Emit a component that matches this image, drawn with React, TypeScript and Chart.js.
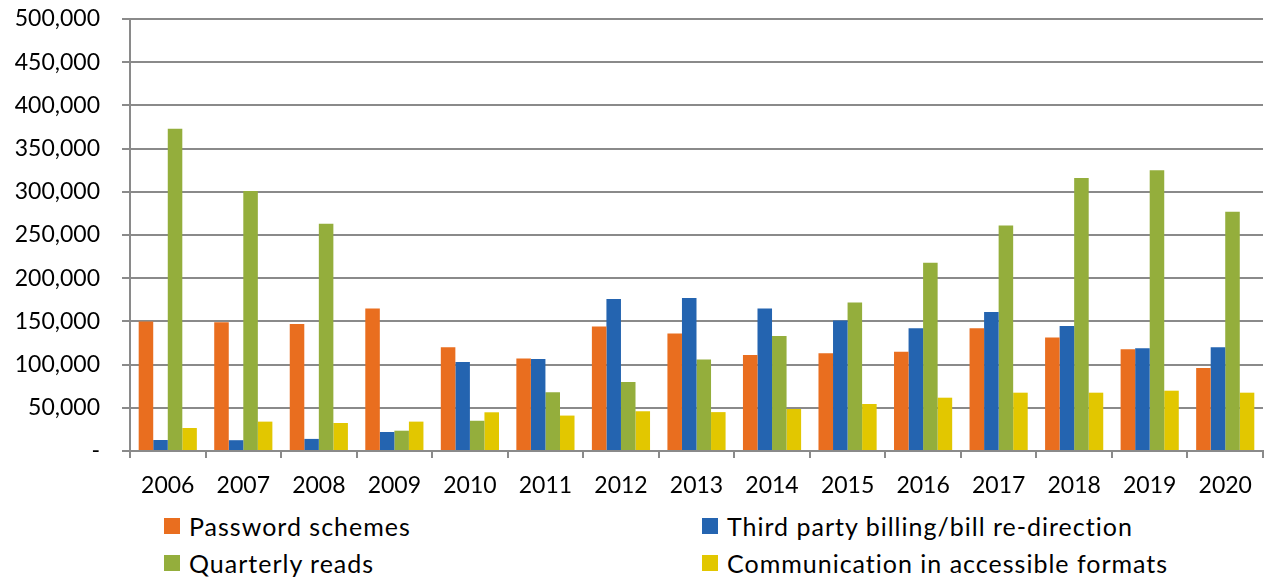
import React, { useEffect, useRef } from "react";
import { Chart, registerables } from "chart.js";

Chart.register(...registerables);

const years = ["2006","2007","2008","2009","2010","2011","2012","2013","2014","2015","2016","2017","2018","2019","2020"];
const passwordSchemes = [150000,149000,147000,165000,120000,107000,144000,136000,111000,113000,115000,142000,131500,117700,96000];
const thirdPartyBilling = [12700,12500,14000,22000,103000,106500,176000,177000,165000,151000,142000,161000,144700,119000,120000];
const quarterlyReads = [373000,301000,263000,23500,35000,68000,80000,106000,133000,172000,218000,261000,316000,325000,277000];
const accessibleFormats = [26600,34000,32400,34000,44800,41000,46000,45000,48600,54400,61700,67500,67500,69800,67500];
const seriesNames = ["Password schemes","Third party billing/bill re-direction","Quarterly reads","Communication in accessible formats"];
const seriesColors = ["#E96E1F","#2464B0","#94AE3C","#E2C700"];
const yTicks = [0,50000,100000,150000,200000,250000,300000,350000,400000,450000,500000];

const FONT = "Lato, 'Noto Sans', sans-serif";

export default function App() {
  const ref = useRef<HTMLCanvasElement | null>(null);
  useEffect(() => {
    if (!ref.current) return;
    const values = [passwordSchemes, thirdPartyBilling, quarterlyReads, accessibleFormats];
    const chart = new Chart(ref.current, {
      type: "bar",
      data: {
        labels: years,
        datasets: values.map((v, i) => ({
          label: seriesNames[i],
          data: v,
          backgroundColor: seriesColors[i],
          borderWidth: 0,
          categoryPercentage: 0.77,
          barPercentage: 1,
        })),
      },
      options: {
        animation: false,
        responsive: false,
        maintainAspectRatio: false,
        layout: { padding: { left: 0, right: 3, top: 19, bottom: 0 } },
        plugins: { legend: { display: false }, tooltip: { enabled: false } },
        scales: {
          x: {
            grid: { display: true, drawOnChartArea: false, drawTicks: true, tickLength: 7, color: "#8a8a8a", lineWidth: 2 },
            border: { display: true, color: "#8a8a8a", width: 2 },
            ticks: { color: "#000", font: { family: FONT, size: 23 }, padding: 14, maxRotation: 0, autoSkip: false },
            afterFit: (s: any) => { s.height = 49; s.paddingLeft = 0; s.paddingRight = 0; },
          },
          y: {
            min: 0,
            max: 500000,
            afterBuildTicks: (s: any) => { s.ticks = yTicks.map((v) => ({ value: v })); },
            grid: { color: "#8a8a8a", lineWidth: 2, tickLength: 8, drawTicks: true },
            border: { display: true, color: "#8a8a8a", width: 2 },
            ticks: {
              color: "#000",
              font: { family: FONT, size: 23 },
              padding: 22,
              callback: (v: any) => (Number(v) === 0 ? "-" : Number(v).toLocaleString("en-US")),
            },
            afterFit: (s: any) => { s.width = 130; s.paddingTop = 0; s.paddingBottom = 0; },
          },
        },
      },
    });
    return () => chart.destroy();
  }, []);

  const legendPos = [
    { x: 164, y: 518 },
    { x: 702, y: 518 },
    { x: 164, y: 555 },
    { x: 702, y: 555 },
  ];
  const order = [0, 1, 2, 3];

  return (
    <div style={{ position: "absolute", left: 0, top: 0, width: 1266, height: 577, background: "#fff", fontFamily: FONT }}>
      <canvas ref={ref} width={1266} height={500} style={{ position: "absolute", left: 0, top: 0, width: 1266, height: 500 }} />
      {order.map((i) => (
        <div key={i} style={{ position: "absolute", left: legendPos[i].x, top: legendPos[i].y - 8, height: 32, display: "flex", alignItems: "center", whiteSpace: "nowrap" }}>
          <span style={{ display: "inline-block", width: 16, height: 16, background: seriesColors[i], marginRight: 9 }} />
          <span style={{ fontSize: 25, letterSpacing: 1, color: "#000", lineHeight: "32px" }}>{seriesNames[i]}</span>
        </div>
      ))}
    </div>
  );
}
